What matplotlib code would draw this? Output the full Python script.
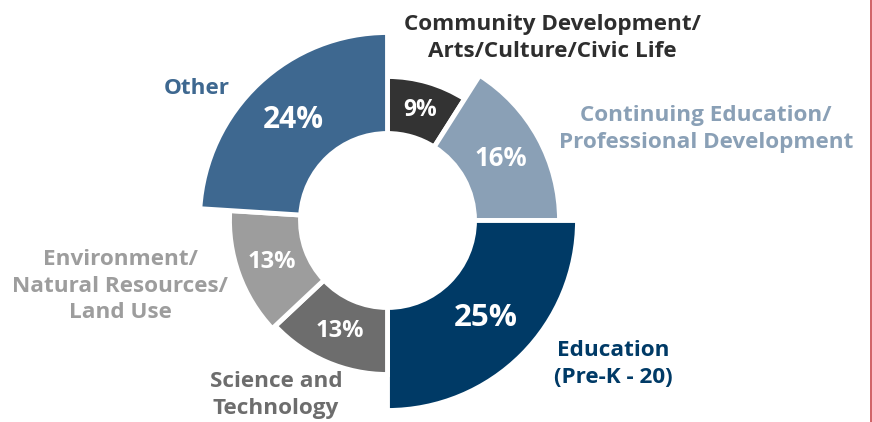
import matplotlib
matplotlib.use("Agg")
import matplotlib.pyplot as plt
from matplotlib.patches import Wedge
from matplotlib.lines import Line2D
import numpy as np

# ---- data ----
categories = ["Community Development/\nArts/Culture/Civic Life",
              "Continuing Education/\nProfessional Development",
              "Education\n(Pre-K - 20)",
              "Science and\nTechnology",
              "Environment/\nNatural Resources/\nLand Use",
              "Other"]
values = [9, 16, 25, 13, 13, 24]
pct_labels = ["9%", "16%", "25%", "13%", "13%", "24%"]

# ---- styles ----
slice_colors = ["#333333", "#8aa0b6", "#003a66", "#6d6d6d", "#9d9d9d", "#3e6890"]
text_colors = ["#2e2e2e", "#8aa0b6", "#003a66", "#6d6d6d", "#9d9d9d", "#3e6890"]
outer_radii = [144, 172, 190, 154, 158, 188]
pct_sizes = [16.5, 18.5, 22.5, 17, 17, 21.5]
label_pos = [(552, 38), (706, 129), (613, 364), (276, 395), (120, 286), (197, 88)]
inner_r = 87
cx, cy = 387.5, 220.5

W, H = 872, 422
fig = plt.figure(figsize=(W / 100, H / 100), dpi=100)
ax = fig.add_axes([0, 0, 1, 1])
ax.set_xlim(0, W)
ax.set_ylim(H, 0)
ax.set_aspect("equal")
ax.axis("off")

font = "Open Sans"
total = sum(values)
cum = np.cumsum([0] + values) / total
for i, v in enumerate(values):
    s, e = cum[i], cum[i + 1]
    t1 = -90 + 360 * s
    t2 = -90 + 360 * e
    r = outer_radii[i]
    w = Wedge((cx, cy), r, t1, t2, width=r - inner_r,
              facecolor=slice_colors[i], edgecolor="white", linewidth=3.5)
    ax.add_patch(w)
    mid = np.deg2rad((t1 + t2) / 2)
    rm = (inner_r + r) / 2
    ax.text(cx + rm * np.cos(mid), cy + rm * np.sin(mid), pct_labels[i],
            ha="center", va="center", color="white", fontsize=pct_sizes[i],
            fontfamily=font, fontweight="bold")
    lx, ly = label_pos[i]
    ax.text(lx, ly, categories[i], ha="center", va="center", color=text_colors[i],
            fontsize=16.2, fontfamily=font, fontweight="bold", linespacing=1.36,
            multialignment="center")

fig.add_artist(Line2D([870.5 / W, 870.5 / W], [-0.01, 1.01], color="#c8474b", linewidth=1.2,
                      transform=fig.transFigure, clip_on=False))

fig.savefig("out.png", dpi=100, facecolor="white")
